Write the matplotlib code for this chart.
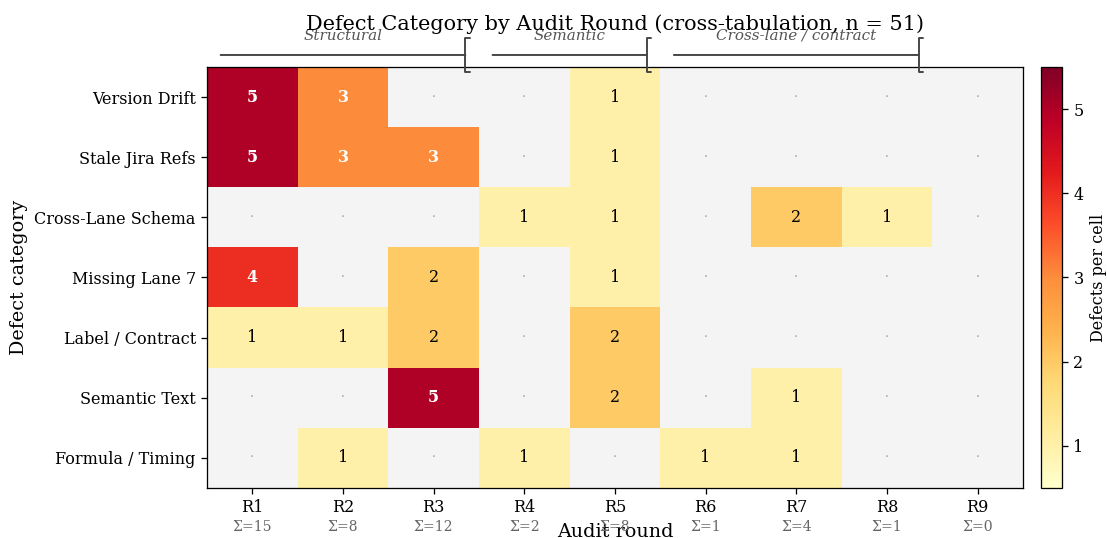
import numpy as np
import matplotlib
matplotlib.use("Agg")
import matplotlib.pyplot as plt

plt.rcParams['font.family'] = ['DejaVu Serif']

categories = ["Version Drift", "Stale Jira Refs", "Cross-Lane Schema", "Missing Lane 7",
              "Label / Contract", "Semantic Text", "Formula / Timing"]
rounds = ["R1", "R2", "R3", "R4", "R5", "R6", "R7", "R8", "R9"]
counts = np.array([
    [5, 3, 0, 0, 1, 0, 0, 0, 0],
    [5, 3, 3, 0, 1, 0, 0, 0, 0],
    [0, 0, 0, 1, 1, 0, 2, 1, 0],
    [4, 0, 2, 0, 1, 0, 0, 0, 0],
    [1, 1, 2, 0, 2, 0, 0, 0, 0],
    [0, 0, 5, 0, 2, 0, 1, 0, 0],
    [0, 1, 0, 1, 0, 1, 1, 0, 0],
])
groups = ["Structural", "Semantic", "Cross-lane / contract"]
group_spans = [(0, 2), (3, 4), (5, 7)]

DPI = 115
fig = plt.figure(figsize=(1107 / DPI, 538 / DPI), dpi=DPI)
ax = fig.add_axes([0.187, 0.093, 0.737, 0.7825])
cax = fig.add_axes([0.9405, 0.093, 0.019, 0.7825])

cmap = plt.get_cmap("YlOrRd").copy()
cmap.set_bad("#f4f4f4")
masked = np.ma.masked_equal(counts, 0)
im = ax.imshow(masked, cmap=cmap, vmin=0.5, vmax=5.5, aspect="auto", interpolation="nearest")

for i in range(counts.shape[0]):
    for j in range(counts.shape[1]):
        v = counts[i, j]
        if v == 0:
            ax.text(j, i, "·", ha="center", va="center", color="#999999", fontsize=8)
        elif v >= 3:
            ax.text(j, i, str(v), ha="center", va="center", color="white", fontsize=10, fontweight="bold")
        else:
            ax.text(j, i, str(v), ha="center", va="center", color="black", fontsize=10)

ax.set_xticks(range(len(rounds)))
ax.set_xticklabels(rounds, fontsize=10)
ax.set_yticks(range(len(categories)))
ax.set_yticklabels(categories, fontsize=10)
ax.set_xlabel("Audit round", fontsize=12, labelpad=4)
ax.set_ylabel("Defect category", fontsize=12)

sums = counts.sum(axis=0)
for j, s in enumerate(sums):
    ax.text(j, -0.092, f"Σ={s}", transform=ax.get_xaxis_transform(), ha="center", va="center",
            fontsize=8.8, color="#666666")

trans = ax.get_xaxis_transform()
for name, (a, b) in zip(groups, group_spans):
    ax.annotate("", xy=(b + 0.5 - 0.15, 1.0285), xytext=(a - 0.5 + 0.15, 1.0285),
                xycoords=trans, textcoords=trans,
                arrowprops=dict(arrowstyle="-[, widthB=1.05, lengthB=0.3", color="#444444",
                                lw=1.2, mutation_scale=10, shrinkA=0, shrinkB=0),
                annotation_clip=False)
    ax.text((a + b) / 2, 1.074, name, transform=trans, ha="center", va="center",
            fontsize=9.5, style="italic", color="#555555")

ax.set_title("Defect Category by Audit Round (cross-tabulation, n = 51)", fontsize=13, pad=23)

cb = fig.colorbar(im, cax=cax, ticks=[1, 2, 3, 4, 5])
cb.set_label("Defects per cell", fontsize=10)
cb.ax.tick_params(labelsize=10)

fig.savefig("out.png", dpi=DPI)
